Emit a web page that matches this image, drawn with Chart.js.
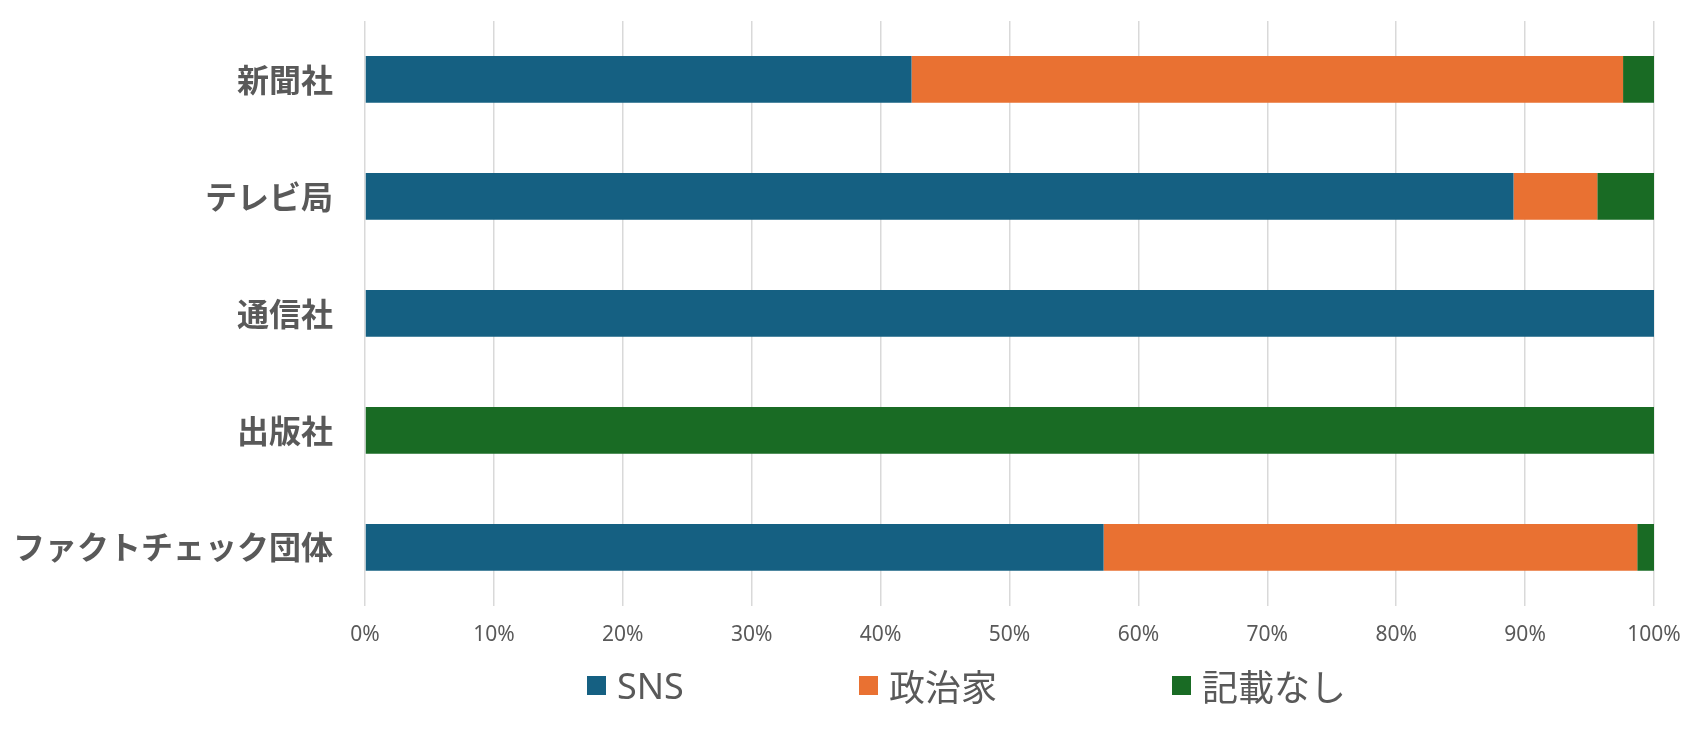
<!DOCTYPE html>
<html>
<head>
<meta charset="utf-8">
<script src="https://cdn.jsdelivr.net/npm/chart.js@4"></script>
<style>
    html, body { margin: 0; padding: 0; background: #fff; }
    #wrap { position: relative; width: 1706px; height: 734px; }
    #legend {
        position: absolute; left: 587px; top: 659px;
        display: flex; align-items: center; gap: 175px;
        font-family: "Noto Sans", "Noto Sans CJK JP", sans-serif;
        font-size: 36px; color: #595959;
    }
    .item { display: flex; align-items: center; }
    .swatch { width: 19px; height: 19px; margin-right: 11px; }
</style>
</head>
<body>
<div id="wrap">
    <canvas id="chart" width="1706" height="734"></canvas>
    <div id="legend"></div>
</div>
<script>
const categories = ['新聞社', 'テレビ局', '通信社', '出版社', 'ファクトチェック団体'];
const seriesNames = ['SNS', '政治家', '記載なし'];
const sns = [42.4, 89.1, 100, 0, 57.3];
const politicians = [55.2, 6.5, 0, 0, 41.4];
const noMention = [2.4, 4.4, 0, 100, 1.3];
const xTicks = [0, 10, 20, 30, 40, 50, 60, 70, 80, 90, 100];

const colors = ['#156082', '#e97132', '#196b24'];
const seriesData = [sns, politicians, noMention];

const ctx = document.getElementById('chart').getContext('2d');
new Chart(ctx, {
    type: 'bar',
    data: {
        labels: categories,
        datasets: seriesNames.map((name, i) => ({
            label: name,
            data: seriesData[i],
            backgroundColor: colors[i],
            borderWidth: 0,
            categoryPercentage: 1,
            barPercentage: 0.4
        }))
    },
    options: {
        indexAxis: 'y',
        responsive: false,
        animation: false,
        layout: {
            autoPadding: false,
            padding: { top: 21, right: 52, bottom: 69, left: 0 }
        },
        plugins: {
            legend: { display: false },
            tooltip: { enabled: false }
        },
        scales: {
            x: {
                stacked: true,
                min: 0,
                max: 100,
                afterBuildTicks: function (scale) {
                    scale.ticks = xTicks.map(v => ({ value: v }));
                },
                grid: { color: '#d9d9d9', lineWidth: 1.5, drawTicks: false },
                border: { display: false },
                ticks: {
                    padding: 17,
                    color: '#595959',
                    font: { family: '"Noto Sans", sans-serif', size: 21 },
                    callback: v => v + '%'
                }
            },
            y: {
                stacked: true,
                afterFit: function (scale) {
                    scale.width = 365;
                    // label padding should not shrink the plot vertically
                    scale.paddingTop = 0;
                    scale.paddingBottom = 0;
                },
                grid: { display: false },
                border: { display: false },
                ticks: {
                    padding: 24,
                    color: '#595959',
                    font: { family: '"Noto Sans CJK JP", sans-serif', size: 32, weight: 'bold' }
                }
            }
        }
    }
});

const legend = document.getElementById('legend');
seriesNames.forEach((name, i) => {
    const item = document.createElement('div');
    item.className = 'item';
    item.innerHTML = '<span class="swatch" style="background:' + colors[i] + '"></span><span>' + name + '</span>';
    legend.appendChild(item);
});
</script>
</body>
</html>
